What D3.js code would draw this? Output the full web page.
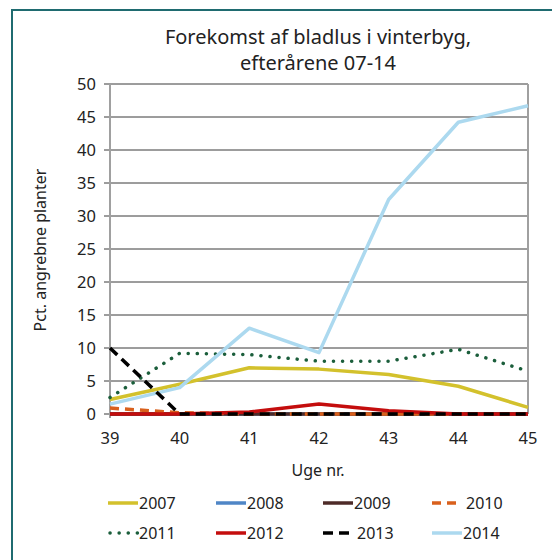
<!DOCTYPE html>
<html><head><meta charset="utf-8">
<script src="https://cdn.jsdelivr.net/npm/d3@7"></script>
<style>body{margin:0;background:#fff}svg{display:block}text{font-family:"Noto Sans",sans-serif;fill:#222}</style>
</head><body>
<svg id="c" width="552" height="560"></svg>
<script>
const weeks = [39, 40, 41, 42, 43, 44, 45];
const yTicks = [0, 5, 10, 15, 20, 25, 30, 35, 40, 45, 50];
const seriesNames = ["2007", "2008", "2009", "2010", "2011", "2012", "2013", "2014"];
const v2007 = [2.2, 4.5, 7.0, 6.8, 6.0, 4.2, 1.0];
const v2008 = [0, 0, 0, 0, 0, 0, 0];
const v2009 = [0, 0, 0, 0, 0, 0, 0];
const v2010 = [0.9, 0.2, 0, 0, 0, 0, 0];
const v2011 = [2.5, 9.2, 9.0, 8.0, 8.0, 9.8, 6.5];
const v2012 = [0, 0, 0.3, 1.5, 0.5, 0, 0];
const v2013 = [10, 0, 0, 0, 0, 0, 0];
const v2014 = [1.5, 4.0, 13.0, 9.3, 32.5, 44.2, 46.7];
const colors = ["#d3c12c", "#4f86c6", "#4e2b28", "#d9601c", "#1b5e3b", "#c40d0d", "#000000", "#acd9ef"];

const values = [v2007, v2008, v2009, v2010, v2011, v2012, v2013, v2014];
const styles = [
  {w:3.5, dash:null, cap:"butt"},
  {w:3.5, dash:null, cap:"butt"},
  {w:3.5, dash:null, cap:"butt"},
  {w:3.5, dash:"9,6", cap:"butt"},
  {w:3.5, dash:"0.1,9", cap:"round"},
  {w:3.5, dash:null, cap:"butt"},
  {w:3.5, dash:"10,6", cap:"butt"},
  {w:3.5, dash:null, cap:"butt"}
];
const drawOrder = [1, 2, 0, 4, 7, 3, 5, 6];

const svg = d3.select("#c");
svg.append("rect").attr("x", 12).attr("y", 10).attr("width", 560).attr("height", 580)
  .attr("fill", "none").attr("stroke", "#1f6b70").attr("stroke-width", 2);

const x = d3.scalePoint().domain(weeks).range([110, 528]);
const y = d3.scaleLinear().domain([0, 50]).range([414, 84]);

svg.append("g").selectAll("line").data(yTicks).join("line")
  .attr("x1", 104).attr("x2", 528).attr("y1", d => y(d)).attr("y2", d => y(d))
  .attr("stroke", "#3a3a3a").attr("stroke-width", 1);

svg.append("g").selectAll("text").data(yTicks).join("text")
  .attr("x", 96).attr("y", d => y(d)).attr("dy", "0.36em").attr("text-anchor", "end")
  .attr("font-size", 16.5).text(d => d);

svg.append("line").attr("x1", 110).attr("x2", 110).attr("y1", 84).attr("y2", 418)
  .attr("stroke", "#a0a0a0").attr("stroke-width", 2);
svg.append("line").attr("x1", 528).attr("x2", 528).attr("y1", 84).attr("y2", 414)
  .attr("stroke", "#a0a0a0").attr("stroke-width", 2);
svg.append("line").attr("x1", 110).attr("x2", 528).attr("y1", 414).attr("y2", 414)
  .attr("stroke", "#a0a0a0").attr("stroke-width", 2);

svg.append("g").selectAll("text").data(weeks).join("text")
  .attr("x", d => x(d)).attr("y", 444).attr("text-anchor", "middle")
  .attr("font-size", 16.5).text(d => d);

const line = d3.line().x((d, i) => x(weeks[i])).y(d => y(d));
drawOrder.forEach(k => {
  const s = styles[k];
  svg.append("path").datum(values[k]).attr("d", line)
    .attr("fill", "none").attr("stroke", colors[k]).attr("stroke-width", s.w)
    .attr("stroke-dasharray", s.dash).attr("stroke-linecap", s.cap)
    .attr("stroke-linejoin", "round");
});

svg.append("text").attr("x", 318).attr("y", 44).attr("text-anchor", "middle")
  .attr("font-size", 20).text("Forekomst af bladlus i vinterbyg,");
svg.append("text").attr("x", 318).attr("y", 70).attr("text-anchor", "middle")
  .attr("font-size", 20).text("efterårene 07-14");
svg.append("text").attr("transform", "translate(46,250) rotate(-90)").attr("text-anchor", "middle")
  .attr("font-size", 16).text("Pct. angrebne planter");
svg.append("text").attr("x", 318).attr("y", 476).attr("text-anchor", "middle")
  .attr("font-size", 16).text("Uge nr.");

const legX = [108, 216, 323, 432];
const legY = [503, 533];
seriesNames.forEach((n, i) => {
  const col = i % 4, row = Math.floor(i / 4);
  const s = styles[i];
  const lx = legX[col], ly = legY[row];
  svg.append("line").attr("x1", lx + (s.cap === "round" ? 2 : 0)).attr("x2", lx + 30).attr("y1", ly).attr("y2", ly)
    .attr("stroke", colors[i]).attr("stroke-width", s.w)
    .attr("stroke-dasharray", s.dash).attr("stroke-linecap", s.cap);
  svg.append("text").attr("x", lx + (s.dash && s.cap !== "round" ? 34 : 31)).attr("y", ly).attr("dy", "0.36em")
    .attr("font-size", 16).text(n);
});
</script>
</body></html>
